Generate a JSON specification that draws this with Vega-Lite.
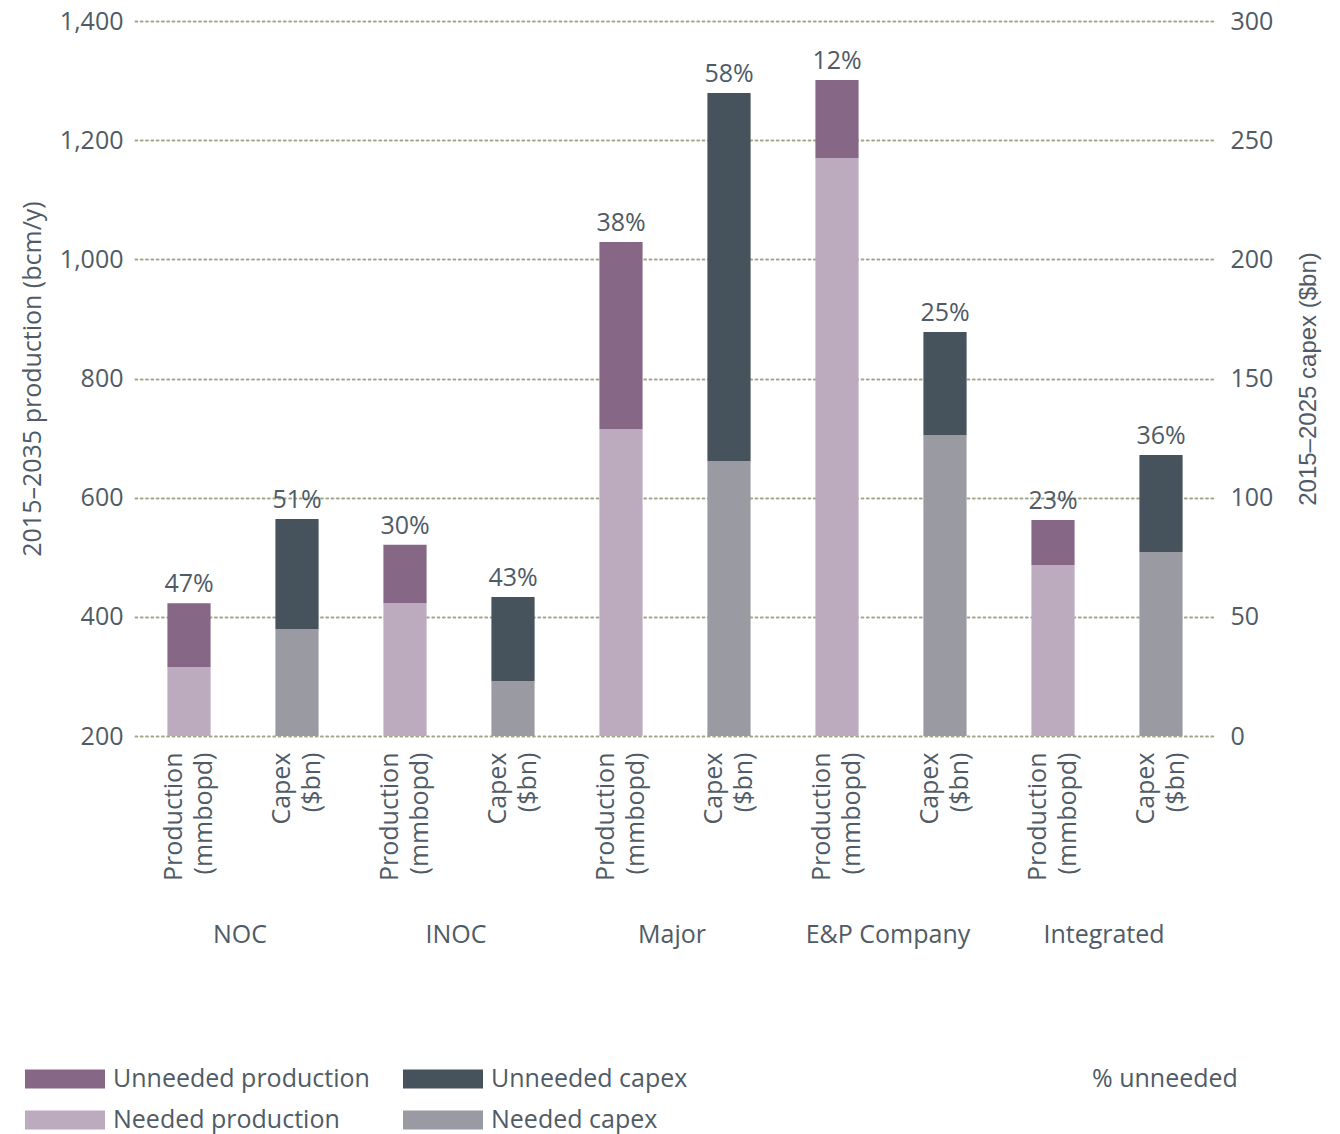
{
  "$schema": "https://vega.github.io/schema/vega-lite/v6.json",
  "width": 1080,
  "height": 715,
  "autosize": {"type": "none"},
  "padding": {"left": 135, "top": 21, "right": 125, "bottom": 398},
  "background": "white",
  "config": {
    "font": "Open Sans",
    "view": {"stroke": null},
    "axis": {
      "labelFont": "Open Sans",
      "labelFontSize": 25,
      "labelColor": "#4f5b66",
      "titleFont": "Open Sans",
      "titleFontSize": 25,
      "titleColor": "#4f5b66",
      "titleFontWeight": "normal",
      "domain": false,
      "ticks": false,
      "grid": false
    },
    "legend": {
      "labelFont": "Open Sans",
      "labelFontSize": 25,
      "labelColor": "#4f5b66",
      "labelLimit": 500
    },
    "text": {"font": "Open Sans", "fontSize": 25, "color": "#4f5b66"}
  },
  "data": {
    "values": [
      {"company": "NOC", "measure": "Production", "bar": "NOC Production", "segment": "Needed production", "value": 316, "pct": "47%"},
      {"company": "NOC", "measure": "Production", "bar": "NOC Production", "segment": "Unneeded production", "value": 107, "pct": "47%"},
      {"company": "NOC", "measure": "Capex", "bar": "NOC Capex", "segment": "Needed capex", "value": 44.9, "pct": "51%"},
      {"company": "NOC", "measure": "Capex", "bar": "NOC Capex", "segment": "Unneeded capex", "value": 46.1, "pct": "51%"},
      {"company": "INOC", "measure": "Production", "bar": "INOC Production", "segment": "Needed production", "value": 423, "pct": "30%"},
      {"company": "INOC", "measure": "Production", "bar": "INOC Production", "segment": "Unneeded production", "value": 98, "pct": "30%"},
      {"company": "INOC", "measure": "Capex", "bar": "INOC Capex", "segment": "Needed capex", "value": 23.1, "pct": "43%"},
      {"company": "INOC", "measure": "Capex", "bar": "INOC Capex", "segment": "Unneeded capex", "value": 35.2, "pct": "43%"},
      {"company": "Major", "measure": "Production", "bar": "Major Production", "segment": "Needed production", "value": 715, "pct": "38%"},
      {"company": "Major", "measure": "Production", "bar": "Major Production", "segment": "Unneeded production", "value": 314, "pct": "38%"},
      {"company": "Major", "measure": "Capex", "bar": "Major Capex", "segment": "Needed capex", "value": 115.4, "pct": "58%"},
      {"company": "Major", "measure": "Capex", "bar": "Major Capex", "segment": "Unneeded capex", "value": 154.4, "pct": "58%"},
      {"company": "E&P Company", "measure": "Production", "bar": "E&P Company Production", "segment": "Needed production", "value": 1170, "pct": "12%"},
      {"company": "E&P Company", "measure": "Production", "bar": "E&P Company Production", "segment": "Unneeded production", "value": 131, "pct": "12%"},
      {"company": "E&P Company", "measure": "Capex", "bar": "E&P Company Capex", "segment": "Needed capex", "value": 126.3, "pct": "25%"},
      {"company": "E&P Company", "measure": "Capex", "bar": "E&P Company Capex", "segment": "Unneeded capex", "value": 43.2, "pct": "25%"},
      {"company": "Integrated", "measure": "Production", "bar": "Integrated Production", "segment": "Needed production", "value": 487, "pct": "23%"},
      {"company": "Integrated", "measure": "Production", "bar": "Integrated Production", "segment": "Unneeded production", "value": 75.5, "pct": "23%"},
      {"company": "Integrated", "measure": "Capex", "bar": "Integrated Capex", "segment": "Needed capex", "value": 77.2, "pct": "36%"},
      {"company": "Integrated", "measure": "Capex", "bar": "Integrated Capex", "segment": "Unneeded capex", "value": 40.7, "pct": "36%"}
    ]
  },
  "layer": [
    {
      "transform": [{"filter": "datum.measure === 'Production'"}],
      "mark": {"type": "bar", "clip": true},
      "encoding": {
        "x": {
          "field": "bar", "type": "nominal", "sort": null,
          "scale": {"domain": ["NOC Production", "NOC Capex", "INOC Production", "INOC Capex", "Major Production", "Major Capex", "E&P Company Production", "E&P Company Capex", "Integrated Production", "Integrated Capex"], "paddingInner": 0.6, "paddingOuter": 0.3},
          "axis": {
            "orient": "bottom", "title": null, "labelAngle": 270, "labelAlign": "right", "labelBaseline": "middle",
            "labelPadding": 16, "labelLineHeight": 30, "labelOffset": -15,
            "labelExpr": "indexof(datum.value, 'Production') >= 0 ? ['Production', '(mmbopd)'] : ['Capex', '($bn)']"
          }
        },
        "y": {
          "field": "value", "type": "quantitative", "stack": "zero",
          "scale": {"domain": [200, 1400], "nice": false, "zero": false},
          "axis": {
            "orient": "left", "title": "2015–2035 production (bcm/y)", "values": [200, 400, 600, 800, 1000, 1200, 1400],
            "format": ",.0f", "grid": true, "gridColor": "#a3a689", "gridDash": [1.8, 3.5], "gridWidth": 2, "gridCap": "round",
            "labelPadding": 12, "titlePadding": 14
          }
        },
        "color": {
          "field": "segment", "type": "nominal",
          "scale": {"domain": ["Unneeded production", "Needed production", "Unneeded capex", "Needed capex"], "range": ["#866786", "#bcaabf", "#46525c", "#9a9aa3"]},
          "legend": {
            "title": null, "orient": "none", "legendX": -90, "legendY": 1038, "columns": 2, "padding": 0,
            "symbolType": "M-2,-0.47H2V0.47H-2Z", "symbolSize": 1600, "symbolStrokeWidth": 0,
            "labelOffset": 28, "columnPadding": 33, "rowPadding": 8
          }
        },
        "order": {"field": "segment", "sort": "ascending"}
      }
    },
    {
      "transform": [{"filter": "datum.measure === 'Capex'"}],
      "mark": {"type": "bar", "clip": true},
      "encoding": {
        "x": {
          "field": "bar", "type": "nominal", "sort": null,
          "scale": {"domain": ["NOC Production", "NOC Capex", "INOC Production", "INOC Capex", "Major Production", "Major Capex", "E&P Company Production", "E&P Company Capex", "Integrated Production", "Integrated Capex"], "paddingInner": 0.6, "paddingOuter": 0.3},
          "axis": null
        },
        "y": {
          "field": "value", "type": "quantitative", "stack": "zero",
          "scale": {"domain": [0, 300], "nice": false},
          "axis": {
            "orient": "right", "title": "2015–2025 capex ($bn)", "values": [0, 50, 100, 150, 200, 250, 300],
            "grid": false, "labelPadding": 15, "titleAngle": 270, "titleBaseline": "top", "titlePadding": 24,
            "titleFont": "Liberation Sans", "titleFontSize": 24
          }
        },
        "color": {"field": "segment", "type": "nominal"},
        "order": {"field": "segment", "sort": "ascending"}
      }
    },
    {
      "transform": [
        {"filter": "datum.measure === 'Production'"},
        {"aggregate": [{"op": "sum", "field": "value", "as": "total"}], "groupby": ["bar", "pct"]}
      ],
      "mark": {"type": "text", "baseline": "alphabetic", "dy": -11},
      "encoding": {
        "x": {
          "field": "bar", "type": "nominal", "sort": null,
          "scale": {"domain": ["NOC Production", "NOC Capex", "INOC Production", "INOC Capex", "Major Production", "Major Capex", "E&P Company Production", "E&P Company Capex", "Integrated Production", "Integrated Capex"], "paddingInner": 0.6, "paddingOuter": 0.3},
          "axis": null
        },
        "y": {"field": "total", "type": "quantitative", "scale": {"domain": [200, 1400], "nice": false, "zero": false}, "axis": null},
        "text": {"field": "pct", "type": "nominal"}
      }
    },
    {
      "transform": [
        {"filter": "datum.measure === 'Capex'"},
        {"aggregate": [{"op": "sum", "field": "value", "as": "total"}], "groupby": ["bar", "pct"]}
      ],
      "mark": {"type": "text", "baseline": "alphabetic", "dy": -11},
      "encoding": {
        "x": {
          "field": "bar", "type": "nominal", "sort": null,
          "scale": {"domain": ["NOC Production", "NOC Capex", "INOC Production", "INOC Capex", "Major Production", "Major Capex", "E&P Company Production", "E&P Company Capex", "Integrated Production", "Integrated Capex"], "paddingInner": 0.6, "paddingOuter": 0.3},
          "axis": null
        },
        "y": {"field": "total", "type": "quantitative", "scale": {"domain": [0, 300], "nice": false}, "axis": null},
        "text": {"field": "pct", "type": "nominal"}
      }
    },
    {
      "mark": {"type": "rule", "opacity": 0},
      "encoding": {
        "x": {
          "field": "company", "type": "nominal", "sort": null,
          "scale": {"domain": ["NOC", "INOC", "Major", "E&P Company", "Integrated"], "paddingInner": 0, "paddingOuter": 0},
          "axis": {"orient": "bottom", "title": null, "labelAngle": 0, "labelAlign": "center", "labelBaseline": "top", "labelPadding": 186, "labelOffset": -3}
        },
        "strokeDash": {
          "datum": "% unneeded", "type": "nominal",
          "legend": {
            "title": null, "orient": "none", "legendX": 932, "legendY": 1045, "padding": 0,
            "symbolType": "circle", "symbolSize": 0, "symbolOpacity": 0, "symbolStrokeWidth": 0, "labelOffset": 0
          }
        }
      }
    }
  ],
  "resolve": {"scale": {"x": "independent", "y": "independent", "color": "shared"}}
}
